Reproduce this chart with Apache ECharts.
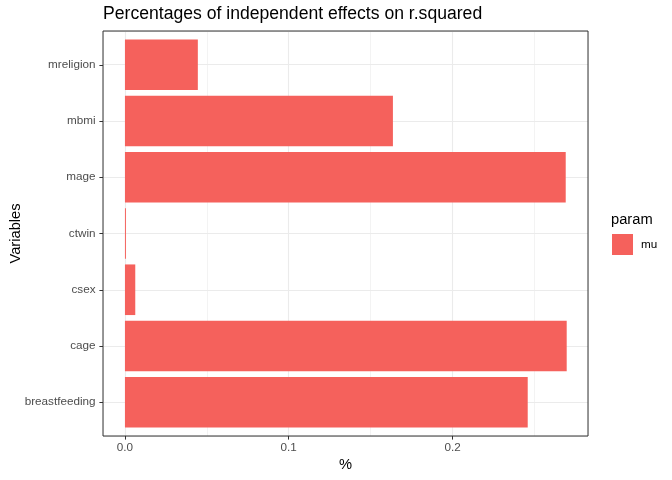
<!DOCTYPE html>
<html>
<head>
<meta charset="utf-8">
<script src="https://cdn.jsdelivr.net/npm/echarts@6/dist/echarts.min.js"></script>
<style>html,body{margin:0;padding:0;background:#fff}#c{width:672px;height:480px}</style>
</head>
<body>
<div id="c"></div>
<script>
const categories = ['breastfeeding', 'cage', 'csex', 'ctwin', 'mage', 'mbmi', 'mreligion'];
const muValues = [0.2459, 0.2697, 0.0063, 0.0006, 0.2691, 0.1636, 0.0445];
const xTicks = [0, 0.1, 0.2];
const xMin = -0.0134, xMax = 0.2827;

const FONT = '"Liberation Sans", Arial, Helvetica, sans-serif';
const chart = echarts.init(document.getElementById('c'), null, {renderer: 'canvas'});
const bandPad = 405 / 7.2 * 0.1;

chart.setOption({
  backgroundColor: '#ffffff',
  animation: false,
  textStyle: {fontFamily: FONT},
  title: [
    {text: 'Percentages of independent effects on r.squared', left: 103, top: 5.5, padding: 0,
     textStyle: {fontSize: 17.6, fontWeight: 'normal', color: '#000', fontFamily: FONT}},
    {text: 'param', left: 611, top: 212, padding: 0,
     textStyle: {fontSize: 14.7, fontWeight: 'normal', color: '#000', fontFamily: FONT}}
  ],
  legend: {
    left: 612, top: 234, padding: 0, itemWidth: 21, itemHeight: 21,
    icon: 'rect', data: ['mu'],
    textStyle: {fontSize: 11.7, color: '#000', fontFamily: FONT, padding: [0, 0, 0, 3]}
  },
  grid: [
    {left: 103, right: 84, top: 31 + bandPad, bottom: 44 + bandPad, show: false,
     containLabel: false, outerBoundsMode: 'none'},
    {left: 103, right: 84, top: 31, bottom: 44, show: true, borderColor: '#333333', borderWidth: 1,
     backgroundColor: 'transparent', containLabel: false, outerBoundsMode: 'none', z: 2}
  ],
  xAxis: [
    {type: 'value', gridIndex: 0, min: xMin, max: xMax, show: false},
    {type: 'value', gridIndex: 1, min: xMin, max: xMax, splitNumber: 6,
     axisLine: {show: false}, axisTick: {show: false}, axisLabel: {show: false},
     splitLine: {show: true, lineStyle: {color: '#EBEBEB', width: 0.6}}},
    {type: 'value', gridIndex: 1, min: xMin, max: xMax, splitNumber: 3, position: 'bottom',
     axisLine: {show: false, onZero: false},
     axisTick: {show: true, length: 3.6, customValues: xTicks, lineStyle: {color: '#333333', width: 1}},
     axisLabel: {show: true, customValues: xTicks, margin: 6,
       fontSize: 11.7, color: '#4D4D4D', fontFamily: FONT,
       formatter: v => v.toFixed(1)},
     splitLine: {show: true, lineStyle: {color: '#EBEBEB', width: 1.1}},
     name: '%', nameLocation: 'middle', nameGap: 21.5, nameMoveOverlap: false,
     nameTextStyle: {fontSize: 14.7, color: '#000', fontFamily: FONT}}
  ],
  yAxis: [
    {type: 'category', gridIndex: 0, data: categories, boundaryGap: true,
     axisLine: {show: false, onZero: false},
     axisTick: {show: true, alignWithLabel: true, length: 3.6, lineStyle: {color: '#333333', width: 1}},
     axisLabel: {fontSize: 11.7, color: '#4D4D4D', margin: 7.5, fontFamily: FONT},
     splitLine: {show: false},
     name: 'Variables', nameLocation: 'middle', nameGap: 80, nameMoveOverlap: false,
     nameTextStyle: {fontSize: 14.7, color: '#000', fontFamily: FONT}},
    {type: 'value', gridIndex: 1, min: 0.4, max: 7.6, splitNumber: 7,
     axisLine: {show: false, onZero: false}, axisTick: {show: false}, axisLabel: {show: false},
     splitLine: {show: true, lineStyle: {color: '#EBEBEB', width: 1.1}}}
  ],
  series: [
    {name: 'mu', type: 'bar', xAxisIndex: 0, yAxisIndex: 0, data: muValues,
     barCategoryGap: '10%', itemStyle: {color: '#F5615C'}, z: 3}
  ]
});
</script>
</body>
</html>
